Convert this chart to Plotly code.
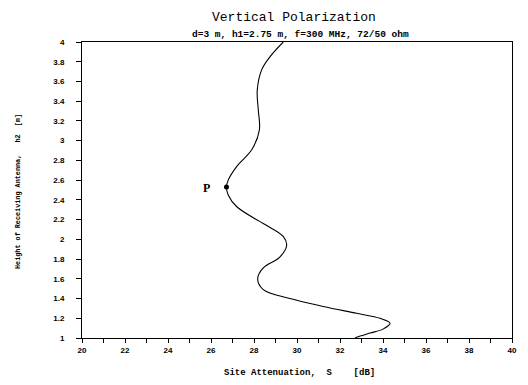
import plotly.graph_objects as go

# Data
height_h2 = [1.0, 1.01, 1.05, 1.09, 1.15, 1.2, 1.25, 1.32, 1.40, 1.49, 1.6, 1.71, 1.82, 1.94,
             2.03, 2.16, 2.33, 2.45, 2.53, 2.6, 2.74, 2.91, 3.11, 3.31, 3.51, 3.72, 3.85, 4.0]
site_atten = [32.7, 32.8, 33.4, 34.0, 34.33, 33.86, 32.78, 31.22, 29.67, 28.43, 28.17, 28.43, 29.2, 29.52,
              29.36, 28.43, 27.2, 26.8, 26.72, 26.8, 27.2, 27.9, 28.25, 28.2, 28.15, 28.36, 28.74, 29.36]
point_p = {"S": 26.72, "h": 2.53, "label": "P"}

x_ticks = list(range(20, 41, 2))
y_ticks = [round(1 + 0.2 * i, 1) for i in range(16)]
y_ticktext = [("%g" % v) for v in y_ticks]

title = "Vertical Polarization"
subtitle = "d=3 m, h1=2.75 m, f=300 MHz, 72/50 ohm"
x_title = "Site Attenuation,  S    [dB]"
y_title = "Height of Receiving Antenna,   h2  [m]"

W, H = 520, 377
L, R, T, B = 74, 16, 34, 47

fig = go.Figure()
fig.add_trace(go.Scatter(x=site_atten, y=height_h2, mode="lines",
                         line=dict(color="black", width=1.1, shape="spline", smoothing=1.0),
                         hoverinfo="skip", showlegend=False))
fig.add_trace(go.Scatter(x=[point_p["S"]], y=[point_p["h"]], mode="markers",
                         marker=dict(color="black", size=5), showlegend=False))

axis_font = dict(family="Liberation Sans", size=8, color="black", weight="bold")

# pixel (page coordinates, body margin 8px) -> paper coords
pw, ph = W - L - R, H - T - B
def px(x): return (x - 8 - L) / pw
def py(y): return (H - B - (y - 8)) / ph

fig.update_layout(
    width=W, height=H,
    margin=dict(l=L, r=R, t=T, b=B),
    paper_bgcolor="white", plot_bgcolor="white",
    font=dict(family="Liberation Mono", color="black"),
    xaxis=dict(range=[20, 40], tickvals=x_ticks, showgrid=False, zeroline=False,
               showline=True, linecolor="black", linewidth=1, mirror=True,
               ticks="outside", ticklen=4, tickcolor="black", tickfont=axis_font,
               minor=dict(dtick=1, ticks="outside", ticklen=4, tickcolor="black")),
    yaxis=dict(range=[1, 4], tickvals=y_ticks, ticktext=y_ticktext, showgrid=False, zeroline=False,
               showline=True, linecolor="black", linewidth=1, mirror=True,
               ticks="outside", ticklen=5, tickcolor="black", tickfont=axis_font,
               ticklabelstandoff=10),
    annotations=[
        dict(text=title, x=px(294), y=py(17), xref="paper", yref="paper", showarrow=False,
             xanchor="center", yanchor="middle",
             font=dict(family="Liberation Mono", size=13, color="black")),
        dict(text=subtitle, x=px(300), y=py(34), xref="paper", yref="paper", showarrow=False,
             xanchor="center", yanchor="middle",
             font=dict(family="Liberation Mono", size=9.5, color="black", weight="bold")),
        dict(text=x_title, x=px(299), y=py(373), xref="paper", yref="paper", showarrow=False,
             xanchor="center", yanchor="middle",
             font=dict(family="Liberation Mono", size=9, color="black", weight="bold")),
        dict(text=y_title, x=px(18), y=py(192), xref="paper", yref="paper", showarrow=False,
             textangle=-90, xanchor="center", yanchor="middle",
             font=dict(family="Liberation Mono", size=6.8, color="black", weight="bold")),
        dict(text=point_p["label"], x=point_p["S"], y=point_p["h"], xref="x", yref="y",
             showarrow=False, xshift=-20, yshift=-1,
             font=dict(family="Liberation Serif", size=12, color="black", weight="bold")),
    ],
)

fig.write_html("out.html")
